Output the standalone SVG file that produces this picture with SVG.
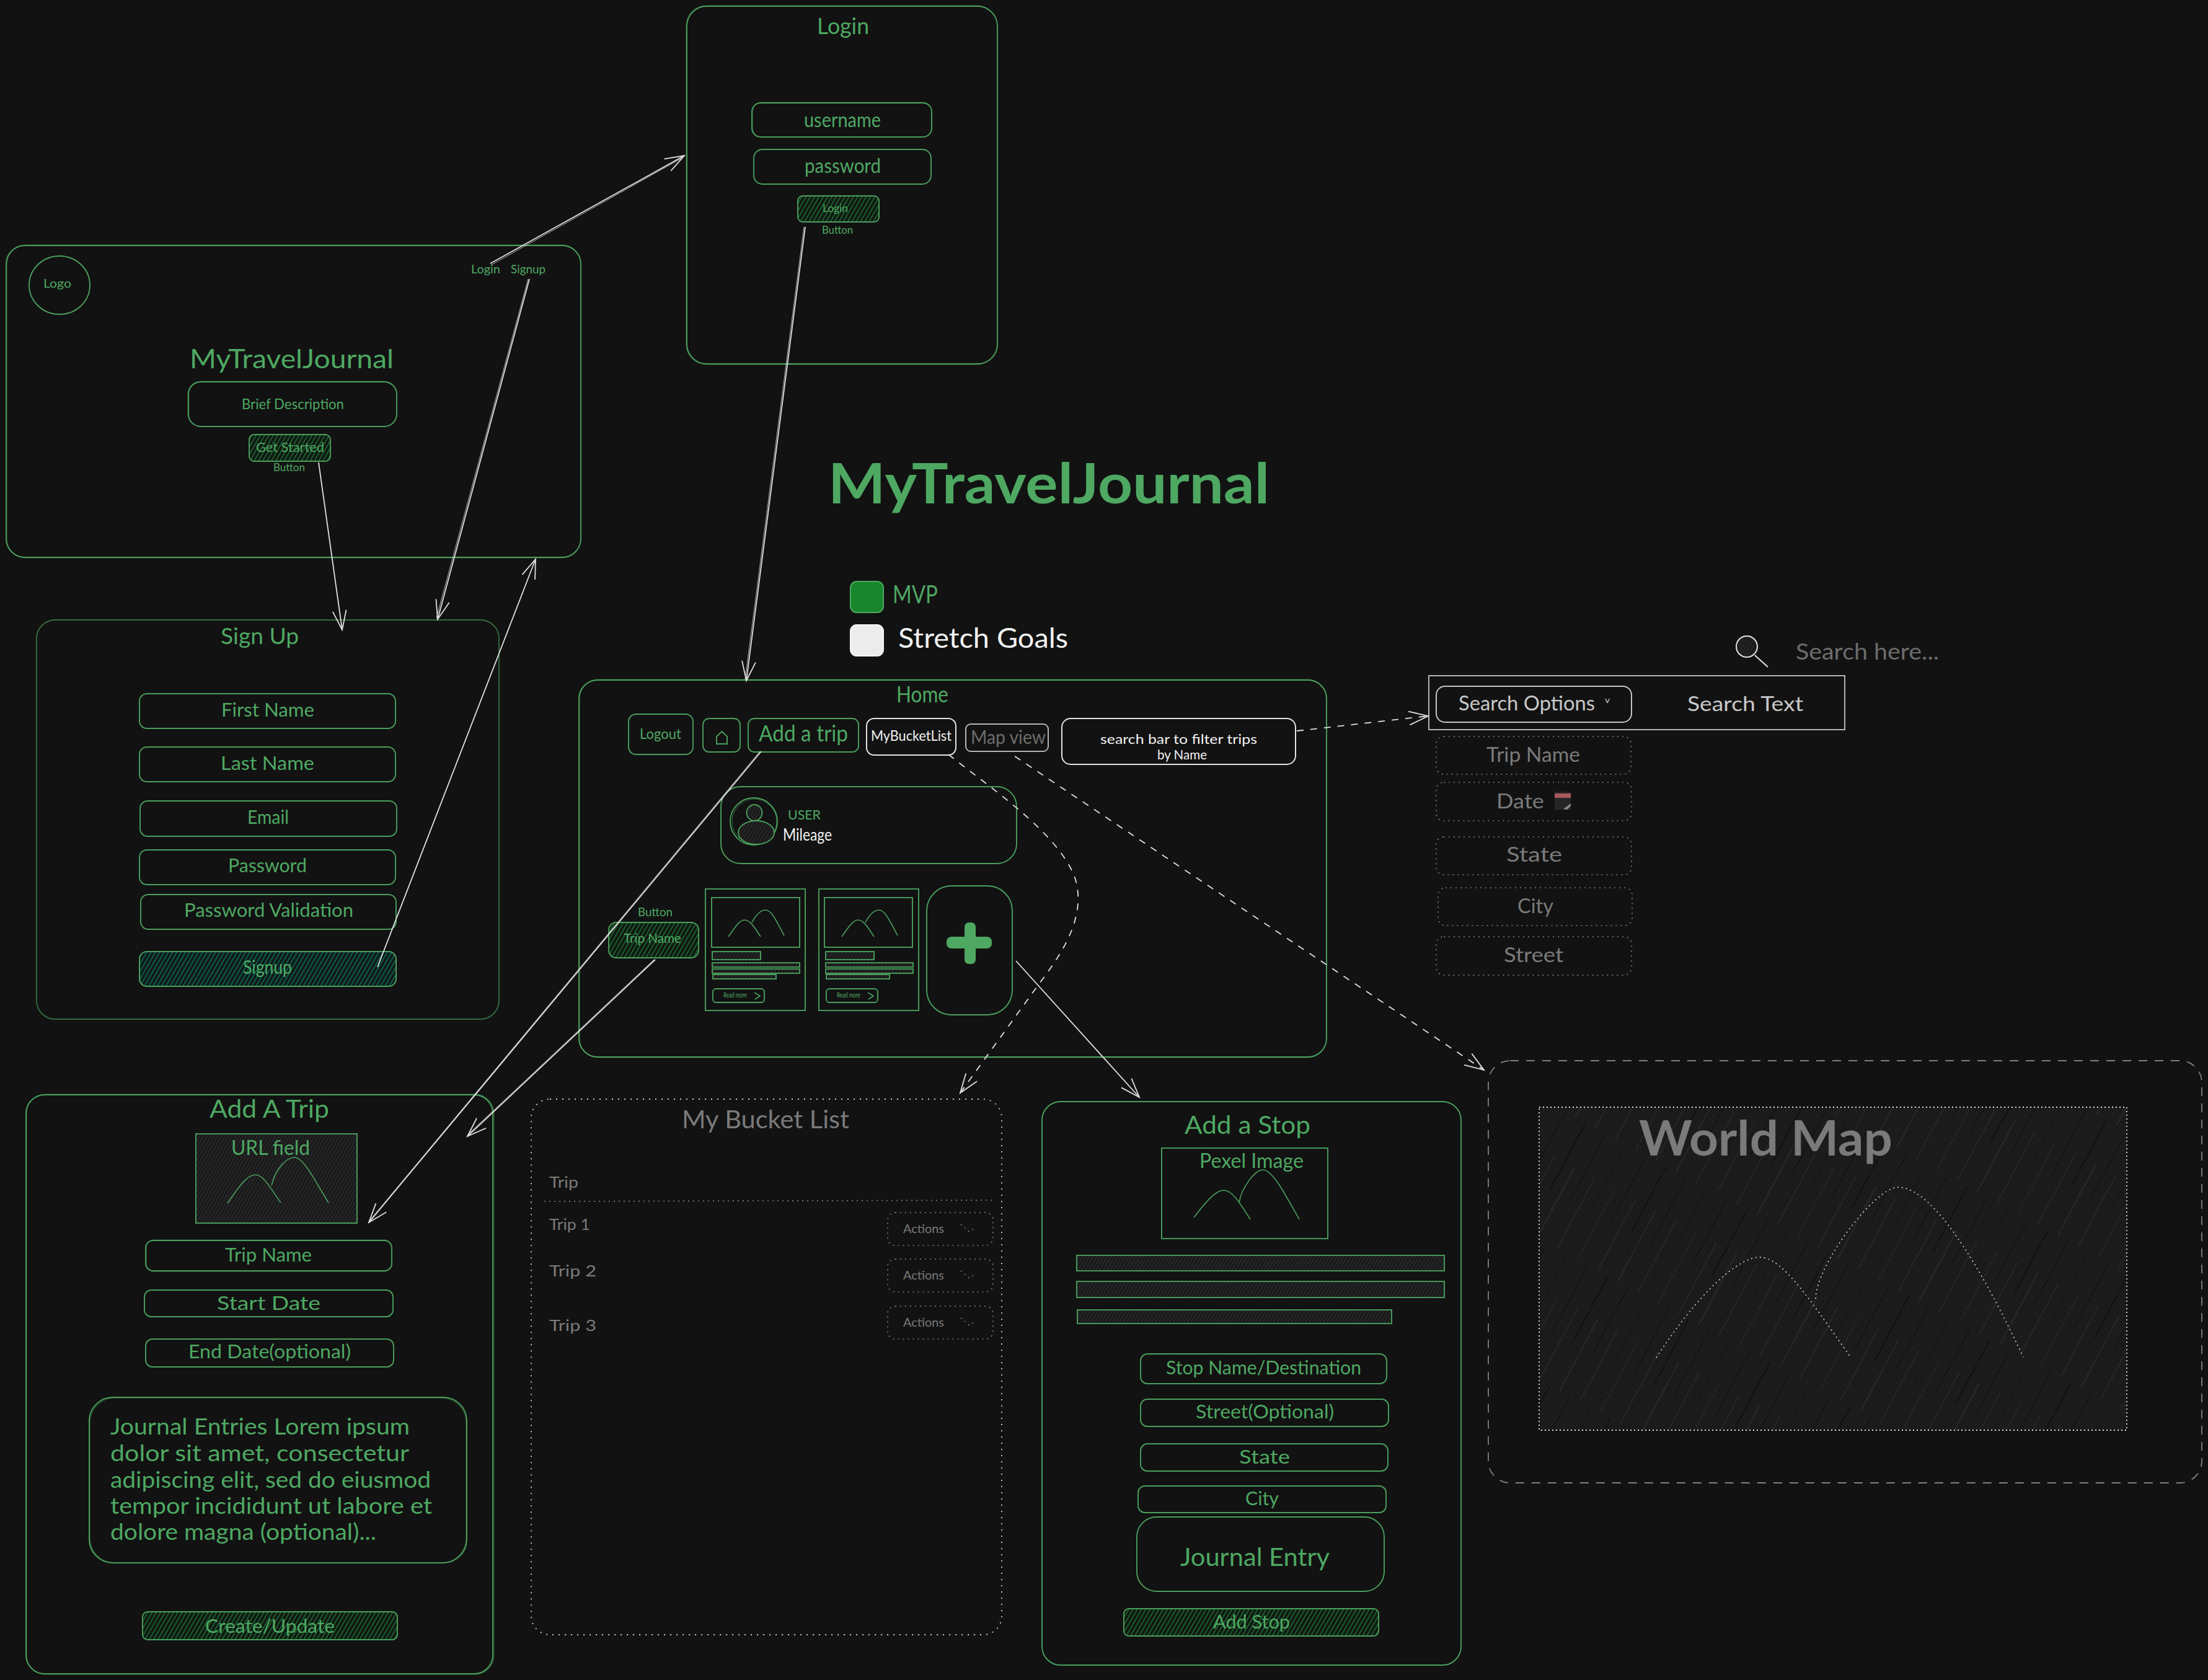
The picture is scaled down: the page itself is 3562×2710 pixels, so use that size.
<svg xmlns="http://www.w3.org/2000/svg" width="3562" height="2710" viewBox="0 0 3562 2710">
<style>
text{font-family:"Lato","Noto Sans","Liberation Sans",sans-serif;fill:#4ea862;transform:translateY(2px)}
.s{fill:none;stroke:#4a9f5d;stroke-width:1.9}
.d{fill:none;stroke:#4a9f5d;stroke-width:1.1;opacity:.55}
.w{fill:none;stroke:#e4e4e4;stroke-width:2}
.lg{fill:none;stroke:#b4b4b4;stroke-width:2}
.dot{fill:none;stroke:#808080;stroke-width:1.6;stroke-dasharray:2 6}
.gb{fill:url(#hGreen);stroke:#4a9f5d;stroke-width:1.9}
.gy{fill:url(#hGrey);stroke:#4a9f5d;stroke-width:1.9}
.m{fill:none;stroke:#4a9f5d;stroke-width:1.6}
.a{fill:none;stroke:#e0e0e0;stroke-width:1.8;marker-end:url(#head)}
.a2{fill:none;stroke:#e0e0e0;stroke-width:1;opacity:.8}
.ad{fill:none;stroke:#e0e0e0;stroke-width:1.8;stroke-dasharray:11 11;marker-end:url(#head)}
.wt{fill:#f2f2f2}
.gt{fill:#7a7a7a}
.lt{fill:#c8c8c8}
.dt{fill:#6c6c6c}
.b{font-weight:700}
</style>
<defs>
<pattern id="hGreen" width="6" height="6" patternUnits="userSpaceOnUse" patternTransform="rotate(30)"><rect width="6" height="6" fill="#111813"/><rect width="1.7" height="6" fill="#1b6a30"/></pattern>
<pattern id="hTeal" width="6" height="6" patternUnits="userSpaceOnUse" patternTransform="rotate(30)"><rect width="6" height="6" fill="#101816"/><rect width="2.2" height="6" fill="#0b5a49"/></pattern>
<pattern id="hGrey" width="5" height="5" patternUnits="userSpaceOnUse" patternTransform="rotate(30)"><rect width="5" height="5" fill="#191919"/><rect width="1.4" height="5" fill="#2e2e31"/></pattern>
<pattern id="hMap" width="4" height="4" patternUnits="userSpaceOnUse" patternTransform="rotate(28)"><rect width="4" height="4" fill="#171718"/><rect width="1.5" height="4" fill="#212224"/></pattern>
<pattern id="hStreak" width="37" height="200" patternUnits="userSpaceOnUse" patternTransform="rotate(28)"><rect width="1.6" height="120" fill="#121213"/><rect x="18" y="70" width="1.6" height="130" fill="#29292c"/></pattern>
<marker id="head" markerUnits="userSpaceOnUse" markerWidth="40" markerHeight="30" viewBox="-34 -15 40 30" refX="0" refY="0" orient="auto" overflow="visible"><path d="M-31,-11 L0,0 L-31,11" fill="none" stroke="#e0e0e0" stroke-width="1.8"/></marker>
<g id="cardMtn"><path class="m" d="M1175,1511 C1188,1492 1194,1484 1201,1484 C1209,1484 1215,1492 1227,1511"/><path class="m" d="M1213,1488 C1220,1475 1228,1468 1235,1468 C1245,1468 1252,1485 1265,1509"/></g>
</defs>
<rect width="3562" height="2710" fill="#121212"/>

<g id="landing">
<rect class="s" x="10" y="396" width="927" height="503" rx="30"/>
<rect class="d" x="11" y="395" width="926" height="505" rx="31"/>
<ellipse class="s" cx="96" cy="460" rx="49" ry="47"/>
<text x="70" y="462" font-size="20" textLength="45" lengthAdjust="spacingAndGlyphs">Logo</text>
<text x="760" y="439" font-size="20" textLength="47" lengthAdjust="spacingAndGlyphs">Login</text>
<text x="824" y="439" font-size="20" textLength="56" lengthAdjust="spacingAndGlyphs">Signup</text>
<text x="306" y="592" font-size="42" textLength="329" lengthAdjust="spacingAndGlyphs">MyTravelJournal</text>
<rect class="s" x="304" y="616" width="336" height="72" rx="20"/>
<rect class="d" x="303" y="615" width="337" height="73" rx="21"/>
<text x="390" y="658" font-size="24" textLength="165" lengthAdjust="spacingAndGlyphs">Brief Description</text>
<rect class="gb" x="402" y="701" width="131" height="43" rx="8"/>
<text x="413" y="727" font-size="22" textLength="110" lengthAdjust="spacingAndGlyphs">Get Started</text>
<text x="441" y="758" font-size="17" textLength="51" lengthAdjust="spacingAndGlyphs">Button</text>
</g>

<g id="login">
<rect class="s" x="1108" y="10" width="501" height="577" rx="32"/>
<rect class="d" x="1107" y="9" width="502" height="579" rx="33"/>
<text x="1318" y="53" font-size="36" textLength="84" lengthAdjust="spacingAndGlyphs">Login</text>
<rect class="s" x="1213" y="166" width="290" height="55" rx="14"/>
<rect class="d" x="1214" y="165" width="289" height="56" rx="15"/>
<text x="1297" y="203" font-size="32" textLength="124" lengthAdjust="spacingAndGlyphs">username</text>
<rect class="s" x="1216" y="241" width="286" height="56" rx="14"/>
<text x="1298" y="277" font-size="32" textLength="123" lengthAdjust="spacingAndGlyphs">password</text>
<rect class="gb" x="1287" y="316" width="131" height="42" rx="8"/>
<text x="1327" y="340" font-size="17" textLength="41" lengthAdjust="spacingAndGlyphs">Login</text>
<text x="1326" y="375" font-size="17" textLength="50" lengthAdjust="spacingAndGlyphs">Button</text>
</g>

<g id="title">
<text class="b" x="1336" y="810" font-size="90" textLength="712" lengthAdjust="spacingAndGlyphs">MyTravelJournal</text>
</g>

<g id="legend">
<rect x="1372" y="938" width="53" height="50" rx="10" fill="#17862c" stroke="#4ea862" stroke-width="2"/>
<text x="1440" y="971" font-size="40" textLength="73" lengthAdjust="spacingAndGlyphs">MVP</text>
<rect x="1372" y="1008" width="53" height="50" rx="10" fill="#ececec" stroke="#f4f4f4" stroke-width="2"/>
<text class="wt" x="1449" y="1043" font-size="44" textLength="274" lengthAdjust="spacingAndGlyphs">Stretch Goals</text>
</g>

<g id="signup">
<rect class="s" style="opacity:.62" x="59" y="1000" width="746" height="644" rx="30"/>
<text x="356" y="1037" font-size="36" textLength="126" lengthAdjust="spacingAndGlyphs">Sign Up</text>
<rect class="s" x="225" y="1119" width="413" height="56" rx="12"/>
<text x="357" y="1154" font-size="30" textLength="150" lengthAdjust="spacingAndGlyphs">First Name</text>
<rect class="s" x="225" y="1205" width="413" height="56" rx="12"/>
<text x="356" y="1240" font-size="30" textLength="151" lengthAdjust="spacingAndGlyphs">Last Name</text>
<rect class="s" x="226" y="1292" width="414" height="57" rx="12"/>
<text x="399" y="1327" font-size="30" textLength="67" lengthAdjust="spacingAndGlyphs">Email</text>
<rect class="s" x="225" y="1371" width="413" height="56" rx="12"/>
<text x="368" y="1405" font-size="30" textLength="127" lengthAdjust="spacingAndGlyphs">Password</text>
<rect class="s" x="227" y="1443" width="412" height="56" rx="12"/>
<text x="297" y="1477" font-size="30" textLength="273" lengthAdjust="spacingAndGlyphs">Password Validation</text>
<rect x="225" y="1535" width="414" height="56" rx="12" fill="url(#hTeal)" stroke="#4a9f5d" stroke-width="2"/>
<text x="392" y="1569" font-size="30" textLength="79" lengthAdjust="spacingAndGlyphs">Signup</text>
</g>

<g id="home">
<rect class="s" x="934" y="1097" width="1206" height="608" rx="30"/>
<rect class="d" x="935" y="1096" width="1205" height="610" rx="31"/>
<text x="1446" y="1131" font-size="36" textLength="84" lengthAdjust="spacingAndGlyphs">Home</text>
<rect class="s" x="1014" y="1152" width="104" height="65" rx="12"/>
<text x="1032" y="1190" font-size="23" textLength="67" lengthAdjust="spacingAndGlyphs">Logout</text>
<rect class="s" x="1134" y="1159" width="60" height="54" rx="10"/>
<path class="s" d="M1156,1200 L1156,1188 L1164.5,1180 L1173,1188 L1173,1200 Z"/>
<rect class="s" x="1207" y="1159" width="178" height="54" rx="10"/>
<text x="1224" y="1194" font-size="36" textLength="144" lengthAdjust="spacingAndGlyphs">Add a trip</text>
<rect class="w" x="1398" y="1159" width="144" height="59" rx="12"/>
<text class="wt" x="1405" y="1193" font-size="24" textLength="130" lengthAdjust="spacingAndGlyphs">MyBucketList</text>
<rect class="lg" x="1558" y="1168" width="133" height="44" rx="8"/>
<text class="dt" x="1566" y="1198" font-size="30" textLength="121" lengthAdjust="spacingAndGlyphs">Map view</text>
<rect class="w" x="1713" y="1159" width="377" height="74" rx="14"/>
<text class="wt" x="1775" y="1198" font-size="22" textLength="253" lengthAdjust="spacingAndGlyphs">search bar to filter trips</text>
<text class="wt" x="1867" y="1223" font-size="22" textLength="80" lengthAdjust="spacingAndGlyphs">by Name</text>
</g>

<g id="user-card">
<rect class="s" x="1163" y="1269" width="477" height="124" rx="32"/>
<circle class="s" cx="1216" cy="1325" r="38"/>
<circle class="d" cx="1217" cy="1325" r="36"/>
<ellipse class="gy" cx="1217" cy="1311" rx="12.5" ry="13"/>
<ellipse class="gy" cx="1220" cy="1343" rx="29" ry="19"/>
<text x="1271" y="1320" font-size="22" textLength="53" lengthAdjust="spacingAndGlyphs">USER</text>
<text class="wt" x="1263" y="1354" font-size="26" textLength="79" lengthAdjust="spacingAndGlyphs">Mileage</text>
</g>

<g id="trip-name-button">
<text x="1029" y="1476" font-size="19" textLength="56" lengthAdjust="spacingAndGlyphs">Button</text>
<rect class="gb" x="982" y="1488" width="145" height="57" rx="12"/>
<text x="1006" y="1519" font-size="22" textLength="93" lengthAdjust="spacingAndGlyphs">Trip Name</text>
</g>

<g id="trip-card-1">
<rect class="s" x="1138" y="1434" width="161" height="196"/>
<rect class="s" x="1148" y="1448" width="142" height="80"/>
<use href="#cardMtn"/>
<rect class="gy" x="1149" y="1535" width="78" height="13"/>
<rect class="gy" x="1149" y="1553" width="141" height="7"/>
<rect class="gy" x="1149" y="1563" width="141" height="7"/>
<rect class="gy" x="1150" y="1572" width="102" height="7"/>
<rect class="s" x="1150" y="1595" width="83" height="22" rx="5"/>
<text x="1167" y="1607" font-size="11" textLength="38" lengthAdjust="spacingAndGlyphs">Read more</text>
<path class="m" d="M1217,1601 L1226,1606.5 L1218,1612"/>
</g>

<g id="trip-card-2">
<rect class="s" x="1321" y="1434" width="161" height="196"/>
<rect class="s" x="1330" y="1448" width="142" height="80"/>
<use href="#cardMtn" x="183"/>
<rect class="gy" x="1332" y="1535" width="78" height="13"/>
<rect class="gy" x="1332" y="1553" width="141" height="7"/>
<rect class="gy" x="1332" y="1563" width="141" height="7"/>
<rect class="gy" x="1333" y="1572" width="102" height="7"/>
<rect class="s" x="1333" y="1595" width="83" height="22" rx="5"/>
<text x="1350" y="1607" font-size="11" textLength="38" lengthAdjust="spacingAndGlyphs">Read more</text>
<path class="m" d="M1400,1601 L1409,1606.5 L1401,1612"/>
</g>

<g id="add-card">
<rect class="s" x="1495" y="1429" width="138" height="208" rx="40"/>
<rect x="1556" y="1488" width="18" height="67" rx="7" fill="#4ea862"/>
<rect x="1527" y="1511" width="73" height="19" rx="8" fill="#4ea862"/>
</g>

<g id="search-panel">
<ellipse class="w" cx="2818" cy="1043" rx="17" ry="17" style="fill:url(#hGrey)"/>
<path class="w" d="M2831,1057 L2852,1076"/>
<text class="dt" x="2897" y="1062" font-size="36" textLength="231" lengthAdjust="spacingAndGlyphs">Search here...</text>
<rect class="lg" x="2305" y="1090" width="671" height="87"/>
<rect style="fill:none;stroke:#c4c4c4;stroke-width:2" x="2317" y="1107" width="315" height="58" rx="14"/>
<text class="lt" x="2353" y="1144" font-size="32" textLength="220" lengthAdjust="spacingAndGlyphs">Search Options</text>
<text class="lt" x="2589" y="1132" font-size="13" textLength="8" lengthAdjust="spacingAndGlyphs">v</text>
<text class="lt" x="2722" y="1145" font-size="32" textLength="187" lengthAdjust="spacingAndGlyphs">Search Text</text>
<rect class="dot" x="2317" y="1188" width="314" height="61" rx="12"/>
<text class="gt" x="2398" y="1227" font-size="32" textLength="151" lengthAdjust="spacingAndGlyphs">Trip Name</text>
<rect class="dot" x="2317" y="1262" width="315" height="62" rx="12"/>
<text class="gt" x="2414" y="1302" font-size="32" textLength="77" lengthAdjust="spacingAndGlyphs">Date</text>
<rect x="2508" y="1277" width="26" height="29" fill="#262626"/>
<rect x="2508" y="1280" width="26" height="7" fill="#a85a5c"/>
<path d="M2522,1305 L2534,1296 L2534,1300 L2528,1306 Z" fill="#8a8a8a"/>
<rect class="dot" x="2317" y="1350" width="315" height="61" rx="12"/>
<text class="gt" x="2430" y="1388" font-size="32" textLength="90" lengthAdjust="spacingAndGlyphs">State</text>
<rect class="dot" x="2320" y="1432" width="313" height="61" rx="12"/>
<text class="gt" x="2448" y="1471" font-size="32" textLength="58" lengthAdjust="spacingAndGlyphs">City</text>
<rect class="dot" x="2317" y="1511" width="315" height="62" rx="12"/>
<text class="gt" x="2426" y="1550" font-size="32" textLength="96" lengthAdjust="spacingAndGlyphs">Street</text>
</g>

<g id="add-trip">
<rect class="s" x="42" y="1766" width="753" height="934" rx="30"/>
<rect class="d" x="43" y="1765" width="754" height="936" rx="31"/>
<text x="338" y="1801" font-size="40" textLength="193" lengthAdjust="spacingAndGlyphs">Add A Trip</text>
<rect class="gy" x="316" y="1829" width="260" height="144"/>
<text x="373" y="1861" font-size="32" textLength="127" lengthAdjust="spacingAndGlyphs">URL field</text>
<path class="m" d="M367,1941 C388,1910 400,1895 412,1895 C425,1895 435,1915 453,1940"/>
<path class="m" d="M438,1912 C445,1885 462,1867 475,1867 C490,1867 508,1905 530,1940"/>
<rect class="s" x="235" y="2001" width="397" height="49" rx="12"/>
<rect class="d" x="236" y="2000" width="396" height="51" rx="12"/>
<text x="363" y="2033" font-size="30" textLength="140" lengthAdjust="spacingAndGlyphs">Trip Name</text>
<rect class="s" x="233" y="2081" width="401" height="43" rx="11"/>
<text x="350" y="2111" font-size="30" textLength="167" lengthAdjust="spacingAndGlyphs">Start Date</text>
<rect class="s" x="235" y="2160" width="400" height="45" rx="11"/>
<text x="304" y="2189" font-size="30" textLength="262" lengthAdjust="spacingAndGlyphs">End Date(optional)</text>
<rect class="s" x="144" y="2254" width="609" height="267" rx="38"/>
<rect class="d" x="145" y="2255" width="607" height="266" rx="40"/>
<text x="178" y="2312" font-size="36" textLength="483" lengthAdjust="spacingAndGlyphs">Journal Entries Lorem ipsum</text>
<text x="178" y="2355" font-size="36" textLength="482" lengthAdjust="spacingAndGlyphs">dolor sit amet, consectetur</text>
<text x="178" y="2398" font-size="36" textLength="517" lengthAdjust="spacingAndGlyphs">adipiscing elit, sed do eiusmod</text>
<text x="178" y="2440" font-size="36" textLength="519" lengthAdjust="spacingAndGlyphs">tempor incididunt ut labore et</text>
<text x="178" y="2482" font-size="36" textLength="429" lengthAdjust="spacingAndGlyphs">dolore magna (optional)...</text>
<rect class="gb" x="230" y="2600" width="411" height="45" rx="8"/>
<text x="331" y="2632" font-size="30" textLength="209" lengthAdjust="spacingAndGlyphs">Create/Update</text>
</g>

<g id="bucket-list">
<rect x="857" y="1773" width="759" height="864" rx="30" fill="none" stroke="#d0d0d0" stroke-width="1.8" stroke-dasharray="2 8"/>
<text class="gt" x="1100" y="1818" font-size="40" textLength="270" lengthAdjust="spacingAndGlyphs">My Bucket List</text>
<text class="gt" x="886" y="1914" font-size="25" textLength="47" lengthAdjust="spacingAndGlyphs">Trip</text>
<path class="dot" d="M878,1938 L1604,1936"/>
<text class="gt" x="886" y="1982" font-size="25" textLength="66" lengthAdjust="spacingAndGlyphs">Trip 1</text>
<rect class="dot" x="1432" y="1956" width="170" height="53" rx="12"/>
<text class="gt" x="1457" y="1987" font-size="20" textLength="66" lengthAdjust="spacingAndGlyphs">Actions</text>
<path class="dot" d="M1550,1975 L1564,1987 L1573,1980"/>
<text class="gt" x="886" y="2057" font-size="25" textLength="76" lengthAdjust="spacingAndGlyphs">Trip 2</text>
<rect class="dot" x="1432" y="2031" width="170" height="53" rx="12"/>
<text class="gt" x="1457" y="2062" font-size="20" textLength="66" lengthAdjust="spacingAndGlyphs">Actions</text>
<path class="dot" d="M1550,2050 L1564,2062 L1573,2055"/>
<text class="gt" x="886" y="2145" font-size="25" textLength="76" lengthAdjust="spacingAndGlyphs">Trip 3</text>
<rect class="dot" x="1432" y="2107" width="170" height="53" rx="12"/>
<text class="gt" x="1457" y="2138" font-size="20" textLength="66" lengthAdjust="spacingAndGlyphs">Actions</text>
<path class="dot" d="M1550,2126 L1564,2138 L1573,2131"/>
</g>

<g id="add-stop">
<rect class="s" x="1681" y="1777" width="676" height="909" rx="30"/>
<text x="1911" y="1827" font-size="40" textLength="203" lengthAdjust="spacingAndGlyphs">Add a Stop</text>
<rect class="s" x="1874" y="1852" width="268" height="146"/>
<text x="1935" y="1882" font-size="32" textLength="168" lengthAdjust="spacingAndGlyphs">Pexel Image</text>
<path class="m" d="M1926,1964 C1948,1935 1962,1920 1974,1920 C1988,1920 2000,1940 2017,1967"/>
<path class="m" d="M1999,1940 C2003,1915 2025,1887 2037,1887 C2052,1887 2070,1920 2096,1967"/>
<rect class="gy" x="1737" y="2025" width="593" height="25"/>
<rect class="gy" x="1737" y="2067" width="593" height="26"/>
<rect class="gy" x="1738" y="2113" width="507" height="22"/>
<rect class="s" x="1840" y="2184" width="397" height="48" rx="11"/>
<text x="1881" y="2215" font-size="30" textLength="315" lengthAdjust="spacingAndGlyphs">Stop Name/Destination</text>
<rect class="s" x="1840" y="2257" width="400" height="44" rx="11"/>
<text x="1929" y="2286" font-size="30" textLength="223" lengthAdjust="spacingAndGlyphs">Street(Optional)</text>
<rect class="s" x="1840" y="2329" width="399" height="44" rx="11"/>
<text x="1999" y="2359" font-size="30" textLength="82" lengthAdjust="spacingAndGlyphs">State</text>
<rect class="s" x="1836" y="2397" width="400" height="43" rx="11"/>
<text x="2009" y="2426" font-size="30" textLength="54" lengthAdjust="spacingAndGlyphs">City</text>
<rect class="s" x="1834" y="2447" width="399" height="120" rx="32"/>
<text x="1904" y="2524" font-size="40" textLength="241" lengthAdjust="spacingAndGlyphs">Journal Entry</text>
<rect class="gb" x="1813" y="2595" width="411" height="44" rx="8"/>
<text x="1957" y="2625" font-size="30" textLength="124" lengthAdjust="spacingAndGlyphs">Add Stop</text>
</g>

<g id="world-map">
<rect x="2401" y="1711" width="1151" height="681" rx="35" fill="none" stroke="#808080" stroke-width="1.8" stroke-dasharray="14 12"/>
<rect x="2483" y="1786" width="948" height="521" fill="url(#hMap)"/>
<rect x="2483" y="1786" width="948" height="521" fill="url(#hStreak)" stroke="#e0e0e0" stroke-width="1.8" stroke-dasharray="2 4"/>
<text class="gt b" x="2644" y="1862" font-size="78" textLength="409" lengthAdjust="spacingAndGlyphs">World Map</text>
<path fill="none" stroke="#d8d8d8" stroke-width="1.6" stroke-dasharray="2 5" d="M2672,2190 C2740,2085 2805,2028 2838,2028 C2875,2028 2915,2090 2984,2187"/>
<path fill="none" stroke="#d8d8d8" stroke-width="1.6" stroke-dasharray="2 5" d="M2929,2095 C2930,2040 3025,1915 3062,1915 C3105,1915 3170,1990 3264,2189"/>
</g>

<g id="connectors">
<path class="a" d="M791,425 L1104,251"/>
<path class="a2" d="M793,427 L1102,254"/>
<path class="a" d="M1299,366 L1204,1098"/>
<path class="a2" d="M1297,366 L1202,1096"/>
<path class="a" d="M514,746 L552,1016"/>
<path class="a" d="M854,450 L706,999"/>
<path class="a2" d="M852,450 L704,997"/>
<path class="a" d="M609,1560 L864,902"/>
<path class="a" d="M1228,1212 L595,1972"/>
<path class="a2" d="M1226,1212 L597,1968"/>
<path class="a" d="M1057,1548 L754,1833"/>
<path class="a2" d="M1055,1548 L756,1829"/>
<path class="a" d="M1639,1550 L1838,1770"/>
<path class="ad" d="M1530,1217 C1610,1280 1700,1340 1732,1410 C1755,1470 1720,1530 1677,1586 L1549,1763"/>
<path class="ad" d="M1637,1220 L2394,1726"/>
<path class="ad" d="M2092,1179 L2304,1155"/>
</g>
</svg>
